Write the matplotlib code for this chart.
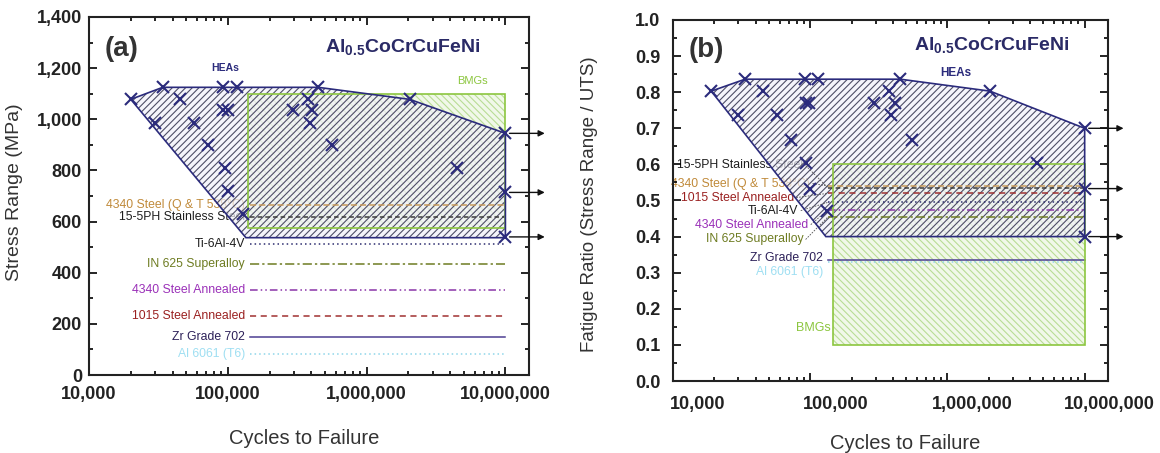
import numpy as np
import matplotlib
matplotlib.use("Agg")
import matplotlib.pyplot as plt
from matplotlib.patches import Polygon, Rectangle
from matplotlib.ticker import LogLocator, NullFormatter, FuncFormatter, MultipleLocator
import matplotlib.transforms as mtrans

plt.rcParams['font.family'] = ['Liberation Sans', 'DejaVu Sans']
plt.rcParams['mathtext.fontset'] = 'custom'
plt.rcParams['mathtext.rm'] = 'Liberation Sans'
plt.rcParams['mathtext.bf'] = 'Liberation Sans:bold'
plt.rcParams['hatch.linewidth'] = 0.8

# ---------------- data ----------------
# HEA fatigue data, panel (a): cycles to failure vs stress range (MPa)
hea_cycles_a = [2.0e4, 3.4e4, 4.5e4, 3.0e4, 5.7e4, 7.2e4, 9.3e4, 1.16e5, 9.3e4, 1.0e5,
                9.5e4, 1.0e5, 1.28e5, 4.47e5, 2.96e5, 3.78e5, 4.07e5, 3.9e5, 5.6e5,
                2.04e6, 4.45e6, 1.0e7, 1.0e7, 1.0e7]
hea_stress_a = [1078, 1125, 1078, 985, 985, 898, 1125, 1125, 1035, 1035,
                808, 718, 631, 1125, 1035, 1078, 1035, 985, 898,
                1078, 808, 945, 714, 540]
# panel (b): cycles vs fatigue ratio
hea_cycles_b = [1.9e4, 3.35e4, 4.5e4, 3.0e4, 5.7e4, 7.2e4, 9.1e4, 1.13e5, 9.3e4, 9.8e4,
                9.3e4, 1.0e5, 1.33e5, 4.54e5, 2.9e5, 3.73e5, 4.17e5, 3.9e5, 5.56e5,
                2.04e6, 4.5e6, 1.0e7, 1.0e7, 1.0e7]
hea_ratio_b = [0.803, 0.836, 0.803, 0.736, 0.736, 0.667, 0.836, 0.836, 0.770, 0.770,
               0.603, 0.533, 0.472, 0.836, 0.770, 0.803, 0.770, 0.736, 0.667,
               0.803, 0.603, 0.700, 0.533, 0.400]

# HEA scatter-band envelopes
band_cycles_a = [2.0e4, 3.4e4, 4.47e5, 2.04e6, 1.0e7, 1.0e7, 1.35e5]
band_stress_a = [1078, 1125, 1125, 1078, 945, 537, 537]
band_cycles_b = [1.9e4, 3.35e4, 4.54e5, 2.04e6, 1.0e7, 1.0e7, 1.3e5]
band_ratio_b = [0.803, 0.836, 0.836, 0.803, 0.700, 0.400, 0.400]

# BMG boxes
bmg_cycles_a = [1.4e5, 1.0e7]
bmg_stress_a = [575, 1100]
bmg_cycles_b = [1.47e5, 1.0e7]
bmg_ratio_b = [0.10, 0.60]

# run-out arrows
arrow_stress_a = [945, 714, 540]
arrow_ratio_b = [0.700, 0.533, 0.400]

# conventional alloys
materials = ['4340 Steel (Q & T 538°C)', '15-5PH Stainless Steel', 'Ti-6Al-4V',
             'IN 625 Superalloy', '4340 Steel Annealed', '1015 Steel Annealed',
             'Zr Grade 702', 'Al 6061 (T6)']
mat_stress = [665, 618, 514, 436, 332, 232, 148, 84]
mat_ratio = [0.540, 0.535, 0.495, 0.455, 0.475, 0.520, 0.335, 0.330]
line_start_a = 1.44e5
line_start_b = 1.35e5
line_end = 1.0e7

xticks = [1e4, 1e5, 1e6, 1e7]

# ---------------- styles ----------------
mat_line_colors = ['#c89a5a', '#3a3a3a', '#2e2e70', '#6e7c22', '#8a34a8', '#a03030',
                   '#4d3f92', '#8fd6ea']
mat_text_colors = ['#c08a3a', '#1e1e1e', '#1e1e1e', '#6e7c22', '#9a30b8', '#9a2020',
                   '#2c2058', '#9fdff2']
mat_ls = [(0, (4, 2)), (0, (3, 2)), (0, (1, 2)), (0, (6, 2, 1.5, 2)),
          (0, (5, 2, 1, 2, 1, 2)), (0, (4, 3)), '-', (0, (1, 2))]

navy = '#2b2b7c'
green = '#8cc63f'

# label placement in panel (b): (right end x, y)
lab_b_order = [1, 0, 5, 2, 4, 3, 6, 7]   # top to bottom
lab_b_x = [8.9e4, 1.0e5, 7.6e4, 8.2e4, 9.7e4, 8.9e4, 1.24e5, 1.24e5]
lab_b_y = [0.597, 0.547, 0.508, 0.472, 0.433, 0.392, 0.342, 0.303]

W, H = 1160, 453
fig = plt.figure(figsize=(W / 100, H / 100), dpi=100)
axa = fig.add_axes([89 / W, 78 / H, 440 / W, 358 / H])
axb = fig.add_axes([673 / W, 72 / H, 435 / W, 361 / H])


def style_axis(ax, ymax, ymajor, yminor, yfmt):
    ax.set_xscale('log')
    ax.set_xlim(1e4, 10 ** 7.17)
    ax.set_ylim(0, ymax)
    ax.set_xticks(xticks)
    ax.xaxis.set_minor_locator(LogLocator(base=10, subs=np.arange(2, 10)))
    ax.xaxis.set_minor_formatter(NullFormatter())
    ax.xaxis.set_major_formatter(FuncFormatter(lambda v, p: f'{int(round(v)):,}'))
    ax.yaxis.set_major_locator(MultipleLocator(ymajor))
    ax.yaxis.set_minor_locator(MultipleLocator(yminor))
    ax.yaxis.set_major_formatter(FuncFormatter(yfmt))
    ax.tick_params(which='both', direction='in', top=True, right=True, width=1.2)
    ax.tick_params(which='major', length=6, labelsize=13)
    ax.tick_params(which='minor', length=3)
    for lbl in ax.get_xticklabels() + ax.get_yticklabels():
        lbl.set_fontweight('bold')
        lbl.set_color('#222222')
    for s in ax.spines.values():
        s.set_linewidth(1.5)
        s.set_color('#222222')


style_axis(axa, 1400, 200, 100, lambda v, p: f'{int(round(v)):,}')
style_axis(axb, 1.0, 0.1, 0.05, lambda v, p: f'{v:.1f}')
axa.tick_params(axis='x', pad=8)
axa.tick_params(axis='y', pad=5)
axb.tick_params(axis='x', pad=11)
axb.tick_params(axis='y', pad=9)

# shift panel (b) x tick labels right, as in the reference
shift = mtrans.ScaledTranslation(25 / 100, 0, fig.dpi_scale_trans)
for lbl in axb.get_xticklabels():
    lbl.set_transform(lbl.get_transform() + shift)


def draw_panel(ax, hx, hy, bx, by, boxx, boxy, arrows, mat_vals, start):
    # BMG box
    ax.add_patch(Rectangle((boxx[0], boxy[0]), boxx[1] - boxx[0], boxy[1] - boxy[0],
                           facecolor='#f1f8e9', edgecolor='#b9dd95', hatch='\\\\\\\\\\',
                           lw=0, zorder=1))
    ax.add_patch(Rectangle((boxx[0], boxy[0]), boxx[1] - boxx[0], boxy[1] - boxy[0],
                           facecolor='none', edgecolor=green, lw=1.2, zorder=4))
    # HEA band
    verts = np.column_stack([bx, by])
    ax.add_patch(Polygon(verts, closed=True, facecolor=(0.95, 0.95, 0.98, 0.7),
                         edgecolor='#4e4e66', hatch='/////', lw=0, zorder=2))
    ax.add_patch(Polygon(verts, closed=True, facecolor='none', edgecolor=navy,
                         lw=1.2, zorder=5))
    # material lines
    for v, c, ls in zip(mat_vals, mat_line_colors, mat_ls):
        ax.plot([start, line_end], [v, v], color=c, ls=ls, lw=1.1, zorder=3)
    # HEA points
    ax.plot(hx, hy, ls='none', marker='x', ms=8, mew=1.5, color=navy, zorder=6)
    # run-out arrows
    for v in arrows:
        ax.annotate('', xy=(1.92e7, v), xytext=(1.07e7, v),
                    arrowprops=dict(arrowstyle='-|>', color='#111111', lw=1.0,
                                    mutation_scale=9, shrinkA=0, shrinkB=0),
                    annotation_clip=False, zorder=7)


draw_panel(axa, hea_cycles_a, hea_stress_a, band_cycles_a, band_stress_a,
           bmg_cycles_a, bmg_stress_a, arrow_stress_a, mat_stress, line_start_a)
draw_panel(axb, hea_cycles_b, hea_ratio_b, band_cycles_b, band_ratio_b,
           bmg_cycles_b, bmg_ratio_b, arrow_ratio_b, mat_ratio, line_start_b)

# material labels panel (a)
for name, v, c in zip(materials, mat_stress, mat_text_colors):
    axa.text(1.33e5, v, name, ha='right', va='center', fontsize=8.8, color=c, zorder=1.5)

# material labels panel (b) with leaders
for k, idx in enumerate(lab_b_order):
    x, y = lab_b_x[k], lab_b_y[k]
    axb.text(x, y, materials[idx], ha='right', va='center', fontsize=8.8,
             color=mat_text_colors[idx], zorder=1.5)
    if k < 6:
        axb.plot([x * 1.04, line_start_b], [y, mat_ratio[idx]], color='#555555',
                 lw=0.6, ls=(0, (2, 1.5)), zorder=3)

# annotations
title = r'$\mathbf{Al_{0.5}CoCrCuFeNi}$'
axa.text(0.714, 0.915, title, transform=axa.transAxes, ha='center', va='center',
         fontsize=14, color='#2a2a66')
axb.text(0.733, 0.93, title, transform=axb.transAxes, ha='center', va='center',
         fontsize=14, color='#2a2a66')
axa.text(0.036, 0.91, '(a)', transform=axa.transAxes, ha='left', va='center',
         fontsize=20, fontweight='bold', color='#333333')
axb.text(0.035, 0.917, '(b)', transform=axb.transAxes, ha='left', va='center',
         fontsize=20, fontweight='bold', color='#333333')
axa.text(9.6e4, 1200, 'HEAs', ha='center', va='center', fontsize=7.5,
         fontweight='bold', color=navy)
axb.text(1.15e6, 0.852, 'HEAs', ha='center', va='center', fontsize=8.5,
         fontweight='bold', color=navy)
axa.text(5.8e6, 1148, 'BMGs', ha='center', va='center', fontsize=8, color=green)
axb.text(1.05e5, 0.147, 'BMGs', ha='center', va='center', fontsize=9, color=green)

axa.set_xlabel('Cycles to Failure', fontsize=14.5, color='#333333')
axa.set_ylabel('Stress Range (MPa)', fontsize=14, color='#333333')
axb.set_xlabel('Cycles to Failure', fontsize=14.5, color='#333333')
axb.set_ylabel('Fatigue Ratio (Stress Range / UTS)', fontsize=13.5, color='#333333')
axa.xaxis.set_label_coords(0.49, -0.15)
axa.yaxis.set_label_coords(-0.15, 0.51)
axb.xaxis.set_label_coords(0.533, -0.147)
axb.yaxis.set_label_coords(-0.172, 0.49)

fig.savefig('out.png', dpi=100, facecolor='white')
